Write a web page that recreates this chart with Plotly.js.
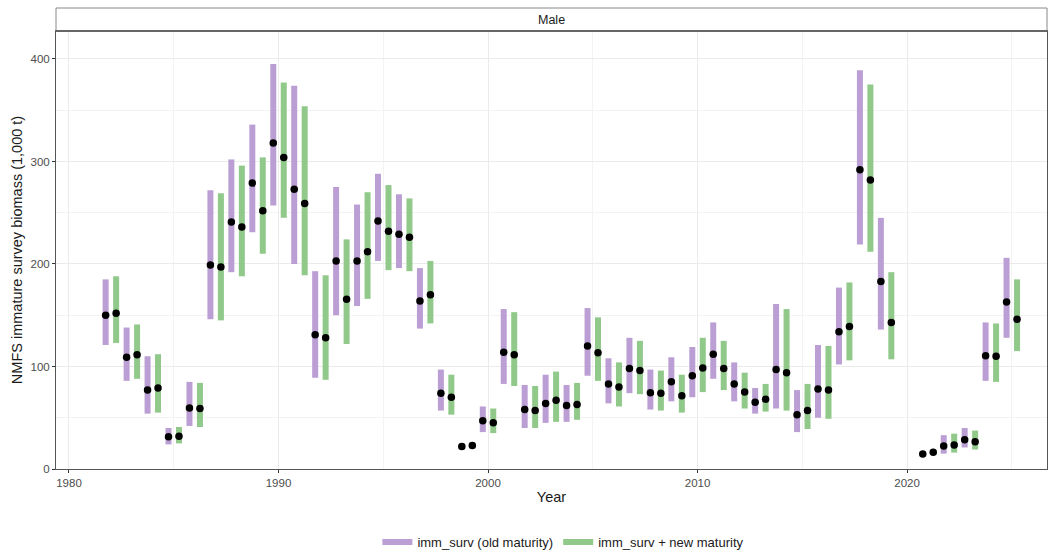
<!DOCTYPE html>
<html>
<head>
<meta charset="utf-8">
<script src="https://cdn.plot.ly/plotly-3.0.1.min.js"></script>
<style>html,body{margin:0;padding:0;background:#fff;}#chart{width:1059px;height:551px;}</style>
</head>
<body>
<div id="chart"></div>
<script>
const years = [1982,1983,1984,1985,1986,1987,1988,1989,1990,1991,1992,1993,1994,1995,1996,1997,1998,1999,2000,2001,2002,2003,2004,2005,2006,2007,2008,2009,2010,2011,2012,2013,2014,2015,2016,2017,2018,2019,2021,2022,2023,2024,2025];
const oldMid = [150,109,77,31.5,59.5,199,241,279,318,273,131,203,203,242,229,164,74,22,47,114,58,64,62,120,83,98,74.5,85,91,112,83,65,97,53,78,134,292,183,14.6,22.4,28.6,110.6,163];
const oldLo  = [121,86,54,24,42,146,192,231,257,200,89,150,159,203,196,137,57,19,36,83,40,45,46,91,64,74,58,66,70,88,66,54,59,36,50,102,219,136,12,15,21,86,128];
const oldHi  = [185,138,110,40,85,272,302,336,395,374,193,275,258,288,268,196,97,25,61,156,82,92,82,157,108,128,97,109,119,143,104,79,161,77,121,177,389,245,17.5,33,40,143,206];
const newMid = [152,111.5,79,32,59,197,236,252,304,259,128,165.5,212,232,226,170,70,23,45,111.5,57,67,63,113.5,80,96,74,71.5,98.5,98,75,68,94,57,77,139,282,143,16.3,23.4,26.7,110,146];
const newLo  = [123,88,55,25,41,145,188,210,245,189,87,122,166,194,193,142,53,20,35,81,40,46,48,86,61,73,57,55,75,77,59,56,57,39,49,106,212,107,13.5,16,19,85,115];
const newHi  = [188,141,112,41,84,269,296,304,377,354,189,224,270,277,264,203,92,26,59,153,81,95,84,148,104,125,96,92,128,125,94,83,156,83,120,182,375,192,19,34.5,37.5,142,185];
const seriesNames = ['imm_surv (old maturity)', 'imm_surv + new maturity'];
const seriesColors = ['#bb9fd4', '#90c989'];
const dodge = 0.25;

function segs(lo, hi, off) {
  const x = [], y = [];
  years.forEach((yr, i) => { x.push(yr + off, yr + off, null); y.push(lo[i], hi[i], null); });
  return {x, y};
}
const s0 = segs(oldLo, oldHi, -dodge);
const s1 = segs(newLo, newHi, dodge);
const traces = [
  {type:'scatter', mode:'lines', name:seriesNames[0], x:s0.x, y:s0.y, line:{color:seriesColors[0], width:6}, connectgaps:false, hoverinfo:'skip'},
  {type:'scatter', mode:'lines', name:seriesNames[1], x:s1.x, y:s1.y, line:{color:seriesColors[1], width:6}, connectgaps:false, hoverinfo:'skip'},
  {type:'scatter', mode:'markers', showlegend:false, x:years.map(v=>v-dodge), y:oldMid, marker:{color:'#000', size:7.5}},
  {type:'scatter', mode:'markers', showlegend:false, x:years.map(v=>v+dodge), y:newMid, marker:{color:'#000', size:7.5}}
];
const stripTop = 1 + 23/438;
const layout = {
  width:1059, height:551,
  margin:{l:56, r:12, t:31, b:82, autoexpand:false},
  paper_bgcolor:'#fff', plot_bgcolor:'#fff',
  font:{family:'Liberation Sans, Arial, sans-serif', color:'#4d4d4d'},
  showlegend:true,
  legend:{orientation:'h', xref:'container', yref:'container', x:0.532, xanchor:'center', y:0.0163, yanchor:'middle', font:{size:13, color:'#1a1a1a'}, itemwidth:30, tracegroupgap:0},
  xaxis:{range:[1979.38, 2026.68], tickvals:[1980,1990,2000,2010,2020], ticks:'outside', ticklen:3, tickcolor:'#333', tickfont:{size:11.5, color:'#4d4d4d'},
    showgrid:true, gridcolor:'#ebebeb', gridwidth:1, zeroline:false, showline:true, mirror:true, linecolor:'#555', linewidth:1,
    minor:{tickvals:[1985,1995,2005,2015,2025], showgrid:true, gridcolor:'#f3f3f3', gridwidth:1, ticks:''},
    title:{text:'Year', font:{size:14.5, color:'#1a1a1a'}, standoff:4}},
  yaxis:{range:[0, 427.3], tickvals:[0,100,200,300,400], ticks:'outside', ticklen:3, tickcolor:'#333', tickfont:{size:11.5, color:'#4d4d4d'},
    showgrid:true, gridcolor:'#ebebeb', gridwidth:1, zeroline:false, showline:true, mirror:true, linecolor:'#555', linewidth:1,
    minor:{tickvals:[50,150,250,350], showgrid:true, gridcolor:'#f3f3f3', gridwidth:1, ticks:''},
    title:{text:'NMFS immature survey biomass (1,000 t)', font:{size:14.5, color:'#1a1a1a'}, standoff:4}},
  shapes:[
    {type:'rect', xref:'paper', yref:'paper', x0:0, x1:1, y0:1, y1:stripTop, fillcolor:'#fff', line:{color:'#888', width:1}},
    {type:'line', xref:'paper', yref:'paper', x0:0, x1:1, y0:1, y1:1, line:{color:'#666', width:2}}
  ],
  annotations:[
    {text:'Male', xref:'paper', yref:'paper', x:0.5, y:(1+stripTop)/2, xanchor:'center', yanchor:'middle', showarrow:false, font:{size:12.5, color:'#1a1a1a'}}
  ]
};
Plotly.newPlot('chart', traces, layout, {displayModeBar:false, staticPlot:true});
</script>
</body>
</html>
